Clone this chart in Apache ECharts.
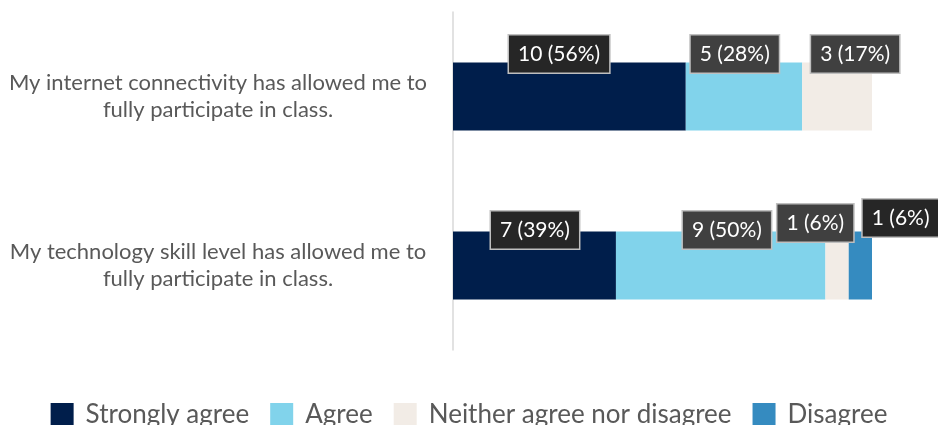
<!DOCTYPE html>
<html>
<head>
<meta charset="utf-8">
<script src="https://cdn.jsdelivr.net/npm/echarts@6/dist/echarts.min.js"></script>
<style>
  html, body { margin: 0; padding: 0; background: #fff; overflow: hidden; }
  #chart { width: 938px; height: 425px; }
</style>
</head>
<body>
<div id="chart"></div>
<script>
// Survey statements (top to bottom)
const statements = [
  'My internet connectivity has allowed me to\nfully participate in class.',
  'My technology skill level has allowed me to\nfully participate in class.'
];

// Response counts per statement
const responseNames = ['Strongly agree', 'Agree', 'Neither agree nor disagree', 'Disagree'];
const stronglyAgree = [10, 7];
const agree = [5, 9];
const neither = [3, 1];
const disagree = [0, 1];

const seriesValues = [stronglyAgree, agree, neither, disagree];
const seriesColors = ['#001E4B', '#81D3EB', '#F2ECE6', '#358BC0'];
const calloutFill = ['#262626', '#404040', '#404040', '#262626'];

// Callout placement relative to each segment's top-left corner [series][statement]
const calloutOffsets = [
  [[56, -27], [38, -20]],
  [[5, -27], [67, -20]],
  [[9, -27], [-48, -27]],
  [[0, 0], [14, -32]]
];

const totals = statements.map((_, i) => seriesValues.reduce((s, arr) => s + arr[i], 0));

const series = responseNames.map((name, si) => ({
  name: name,
  type: 'bar',
  stack: 'total',
  barWidth: 68,
  itemStyle: { color: seriesColors[si] },
  data: seriesValues[si].map((v, i) => ({
    value: v,
    label: {
      show: v > 0,
      position: calloutOffsets[si][i]
    }
  })),
  label: {
    show: true,
    formatter: p => p.value + ' (' + Math.round(p.value / totals[p.dataIndex] * 100) + '%)',
    color: '#ffffff',
    fontFamily: 'Lato',
    fontSize: 21,
    lineHeight: 22,
    backgroundColor: calloutFill[si],
    borderColor: '#BFBFBF',
    borderWidth: 1.5,
    padding: [8, 9, 7, 9]
  },
  emphasis: { disabled: true }
}));

const chart = echarts.init(document.getElementById('chart'), null, { renderer: 'canvas' });
chart.setOption({
  animation: false,
  grid: { left: 453, right: 66, top: 12, bottom: 75, containLabel: false },
  xAxis: {
    type: 'value',
    min: 0,
    max: 18,
    show: false
  },
  yAxis: {
    type: 'category',
    inverse: true,
    data: statements,
    axisLine: { show: true, lineStyle: { color: '#D9D9D9', width: 1.5 } },
    axisTick: { show: false },
    splitLine: { show: false },
    axisLabel: {
      margin: 235,
      align: 'center',
      color: '#595959',
      fontFamily: 'Lato',
      fontSize: 22,
      lineHeight: 27
    }
  },
  legend: {
    top: 397,
    left: 'center',
    itemWidth: 23,
    itemHeight: 24,
    itemGap: 21,
    icon: 'rect',
    textStyle: { color: '#595959', fontFamily: 'Lato', fontSize: 26, padding: [0, 0, 0, 7] },
    data: responseNames
  },
  series: series
});
</script>
</body>
</html>
